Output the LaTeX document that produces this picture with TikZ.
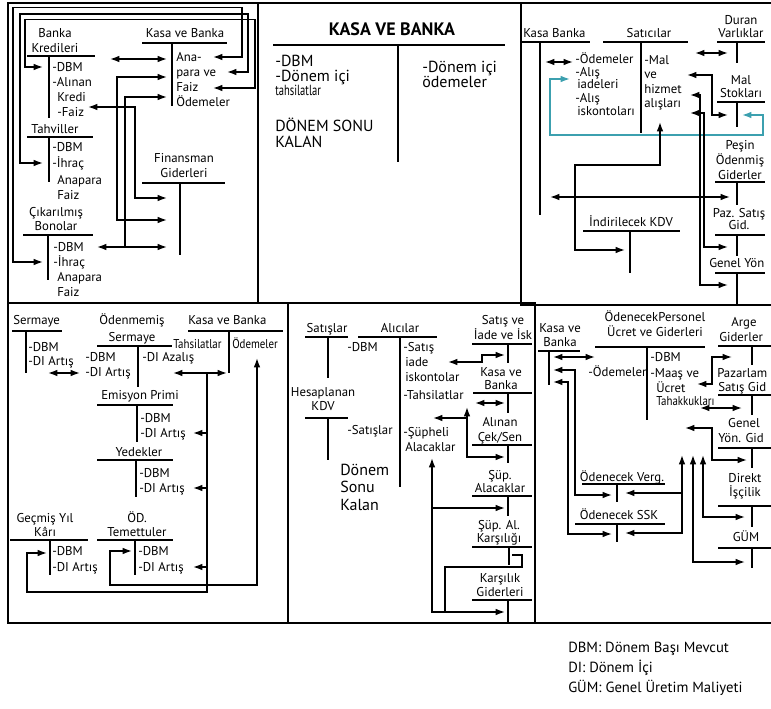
\documentclass[tikz,border=0pt]{standalone}
\usepackage{fontspec}
\setmainfont{PT Sans}
\newfontfamily\condfont[FakeStretch=0.85]{PT Sans}
\newfontfamily\narrowfont[FakeStretch=0.72]{PT Sans}
\usetikzlibrary{arrows.meta}
\definecolor{tealc}{RGB}{60,160,175}
\newcommand\myTx[6][]{\foreach \mytxt [count=\myi] in {#6}{\node[lbl,anchor=base west,#1] (#2-\myi) at (#3,{#4+#5*(\myi-1)}) {\mytxt};}}
\newcommand\myTc[6][]{\foreach \mytxt [count=\myi] in {#6}{\node[lbl,anchor=base,#1] (#2-\myi) at (#3,{#4+#5*(\myi-1)}) {\mytxt};}}
\newcommand\myT[5]{\draw[tline] (#1,#3)--(#2,#3) (#4,#3)--(#4,#5);}
\begin{document}
\begin{tikzpicture}[x=0.75pt,y=-0.75pt,
 lbl/.style={inner sep=0pt,font=\fontsize{9.6}{11}\selectfont},
 cond/.style={font=\condfont\fontsize{9.6}{11}\selectfont},
 condtm/.style={font=\narrowfont\fontsize{11}{13}\selectfont},
 big/.style={font=\fontsize{12}{14}\selectfont},
 legend/.style={font=\fontsize{11}{13}\selectfont},
 tline/.style={line width=1.5pt},
 panel/.style={line width=1.4pt},
 arr/.style={line width=1.1pt,-{Latex[length=7pt,width=5pt]}},
 darr/.style={line width=1.1pt,{Latex[length=7pt,width=5pt]}-{Latex[length=7pt,width=5pt]}},
]
\useasboundingbox (0,0) rectangle (771,709);
% ---------- panels
\draw[panel] (8,3) rectangle (258,303);
\draw[panel] (258,3) rectangle (521,303);
\draw[panel] (771,3) -- (521,3) -- (521,305) -- (771,305);
\draw[panel] (8,303) rectangle (288,623);
\draw[panel] (288,303) rectangle (535,623);
\draw[panel] (535,305) -- (535,623) -- (771,623);

% ================= TOP LEFT
\myTc{bk}{55}{38}{14.5}{Banka,Kredileri}
\myTx{bka}{52}{72}{15}{-DBM,-Alınan}
\myTx{bkb}{57}{102}{15}{Kredi,-Faiz}
\myTc{kb}{185}{38}{15}{Kasa ve Banka}
\myTx{kbr}{176}{62}{15}{Ana-,para ve,Faiz,Ödemeler}
\myTc{th}{55}{134}{15}{Tahviller}
\myTx{tha}{52}{152}{15.5}{-DBM,-İhraç}
\myTx{thb}{57}{184.5}{15}{Anapara,Faiz}
\myTc{fg}{184}{162.5}{15}{Finansman,Giderleri}
\myTc{cb}{56}{216.5}{14}{Çıkarılmış,Bonolar}
\myTx{cba}{53}{251.5}{15}{-DBM,-İhraç}
\myTx{cbb}{57}{281.5}{15}{Anapara,Faiz}
\myT{27}{95}{56}{49}{118}
\myT{142}{227}{43}{172}{106}
\myT{27}{93}{137}{49}{182}
\myT{142}{225}{183}{180}{255}
\myT{23}{93}{235}{48}{280}
\draw[darr] (110,59)--(167,59);
\draw[darr] (213,57)--(242,57)--(242,7.5)--(13,7.5)--(13,262)--(43,262);
\draw[darr] (227,72)--(248,72)--(248,14)--(20,14)--(20,163)--(43,163);
\draw[darr] (213,88)--(255,88)--(255,19.5)--(25,19.5)--(25,67)--(43,67);
\draw[darr] (88,107)--(135,107)--(135,198)--(167,198);
\draw[darr] (167,77)--(117,77)--(117,220)--(167,220);
\draw[arr] (125,247)--(125,97)--(167,97);
\draw[darr] (97,247)--(167,247);

% ================= TOP MIDDLE
\node[lbl,font=\bfseries\fontsize{13.5}{15}\selectfont,anchor=base] (kasa) at (392,35.5) {KASA VE BANKA};
\myT{273}{505}{45}{398}{162}
\myTx[big]{tma}{275}{67}{15}{-DBM,-Dönem içi}
\node[lbl,condtm,anchor=base west] (tmc) at (275,96) {tahsilatlar};
\myTx[big]{tms}{275}{132}{16}{DÖNEM SONU,KALAN}
\myTx[big]{tmr}{422}{73}{14.5}{-Dönem içi,ödemeler}

% ================= TOP RIGHT
\node[lbl,anchor=base west] (kbt) at (523,37.5) {Kasa Banka};
\myTc{sat}{649}{37.5}{15}{Satıcılar}
\node[lbl,anchor=base west] (s1) at (575,63.5) {-Ödemeler};
\node[lbl,anchor=base west] (s2) at (575,76.5) {-Alış};
\node[lbl,anchor=base west] (s3) at (577,89) {iadeleri};
\node[lbl,anchor=base west] (s4) at (575,102.5) {-Alış};
\node[lbl,anchor=base west] (s5) at (577,116) {iskontoları};
\myTx{sr}{644}{64.5}{14.3}{-Mal,ve,hizmet,alışları}
\myTc{dv}{741}{24.5}{13.5}{Duran,Varlıklar}
\myTc{ms}{741}{84.5}{13.5}{Mal,Stokları}
\myTc{pog}{740}{149.5}{15}{Peşin,Ödenmiş,Giderler}
\myTc{psg}{739}{217.5}{12}{Paz. Satış,Gid.}
\node[lbl,anchor=base west] (gy) at (709,267.5) {Genel Yön};
\myTc{ik}{631}{226.5}{15}{İndirilecek KDV}
\myT{522}{590}{42}{540}{215}
\myT{603}{688}{42}{641}{133}
\myT{717}{765}{42}{737}{63}
\myT{717}{765}{102}{737}{127}
\myT{715}{765}{182}{737}{205}
\myT{715}{765}{235}{737}{256}
\myT{715}{765}{273}{737}{305}
\myT{583}{680}{231}{630}{273}
\draw[darr] (545,62)--(573,62);
\draw[darr,tealc] (742,115)--(763,115)--(763,135)--(550,135)--(550,79)--(570,79);
\draw[darr] (695,53)--(728,53);
\draw[darr] (687,75)--(712,75)--(712,115)--(728,115);
\draw[darr] (690,95)--(700,95)--(700,285)--(728,285);
\draw[darr] (690,113)--(704,113)--(704,247)--(728,247);
\draw[darr] (660,122)--(660,165)--(575,165)--(575,250)--(625,250);
\draw[darr] (550,197)--(730,197);

% ================= BOTTOM LEFT
\node[lbl,anchor=base west] (ser) at (13,324.5) {Sermaye};
\myTx{sera}{28}{351.5}{14}{-DBM,-DI Artış}
\myTc{os}{132}{324.5}{17}{Ödenmemiş,Sermaye}
\myTx{osa}{85}{361.5}{15}{-DBM,-DI Artış}
\node[lbl,anchor=base west] (osr) at (142,361.5) {-DI Azalış};
\node[lbl,anchor=base west] (kb2) at (188,324.5) {Kasa ve Banka};
\node[lbl,cond,anchor=base west] (kb2t) at (173,349) {Tahsilatlar};
\node[lbl,cond,anchor=base west] (kb2o) at (232,349) {Ödemeler};
\myTc{ep}{140}{399.5}{15}{Emisyon Primi}
\myTx{epa}{140}{422.5}{15}{-DBM,-DI Artış}
\myTc{yd}{139}{456.5}{15}{Yedekler}
\myTx{yda}{139}{477.5}{15}{-DBM,-DI Artış}
\myTc{gyk}{45}{522.5}{14}{Geçmiş Yıl,Kârı}
\myTx{gya}{52}{555.5}{16}{-DBM,-DI Artış}
\myTc{ot}{137}{522.5}{14}{ÖD.,Temettuler}
\myTx{ota}{138}{555.5}{16}{-DBM,-DI Artış}
\myT{12}{62}{331}{26}{373}
\myT{97}{172}{346}{138}{387}
\myT{188}{283}{331}{229}{373}
\myT{97}{173}{405}{137}{442}
\myT{97}{173}{460}{136}{497}
\myT{10}{88}{540}{50}{575}
\myT{97}{173}{540}{135}{575}
\draw[darr] (48,373)--(80,373);
\draw[darr] (173,373)--(227,373);
\draw[arr] (207,373)--(207,592)--(27,592)--(27,553)--(47,553);
\draw[arr] (207,433)--(193,433);
\draw[arr] (207,488)--(193,488);
\draw[arr] (207,567)--(193,567);
\draw[darr] (132,551)--(110,551)--(110,585)--(257,585)--(257,358);

% ================= BOTTOM MIDDLE
\myTc{stl}{327}{332.5}{15}{Satışlar}
\myTc{alc}{400}{332.5}{15}{Alıcılar}
\node[lbl,anchor=base west] (al1) at (347,351.5) {-DBM};
\node[lbl,anchor=base west] (al2) at (347,434.5) {-Satışlar};
\node[lbl,anchor=base west] (al3) at (403,351.5) {-Satış};
\myTx{al4}{405}{366.5}{15}{iade,iskontolar}
\node[lbl,anchor=base west] (al6) at (403,399.5) {-Tahsilatlar};
\node[lbl,anchor=base west] (al7) at (403,436.5) {-Şüpheli};
\node[lbl,anchor=base west] (al8) at (405,451.5) {Alacaklar};
\myTc{hk}{323}{396.5}{14}{Hesaplanan,KDV}
\myTx[big]{dsk}{340}{475}{17.5}{Dönem,Sonu,Kalan}
\myTc{sis}{503}{324.5}{15}{Satış ve,İade ve İsk}
\myTc{kb3}{501}{376.5}{13}{Kasa ve,Banka}
\myTc{ac}{500}{426.5}{15}{Alınan,Çek/Sen}
\myTc{sa}{500}{479.5}{13}{Şüp.,Alacaklar}
\myTc{sak}{499}{529.5}{13}{Şüp. Al.,Karşılığı}
\myTc{kg}{500}{582.5}{14}{Karşılık,Giderleri}
\myT{305}{348}{337}{328}{378}
\myT{358}{437}{337}{400}{487}
\myT{305}{348}{418}{328}{460}
\myT{472}{532}{344}{508}{363}
\myT{473}{532}{393}{508}{413}
\myT{472}{532}{445}{508}{463}
\myT{472}{532}{496}{508}{516}
\myT{472}{532}{547}{509}{565}
\myT{472}{532}{600}{508}{623}
\draw[darr] (448,362)--(482,362)--(482,355)--(505,355);
\draw[darr] (475,403)--(505,403);
\draw[darr] (467,407)--(467,457)--(505,457);
\draw[arr] (467,418)--(433,418);
\draw[darr] (432,458)--(432,612)--(505,612);
\draw[arr] (432,508)--(505,508);
\draw[line width=1.1pt] (512,555)--(522,555)--(522,567)--(445,567)--(445,612);

% ================= BOTTOM RIGHT
\myTc{kb4}{560}{332.5}{14}{Kasa ve,Banka}
\node[lbl,anchor=base west] (od4) at (588,376.5) {-Ödemeler};
\myTc{op}{655}{321.5}{15}{ÖdenecekPersonel,Ücret ve Giderleri}
\myTx{opa}{650}{361.5}{15.5}{-DBM,-Maaş ve}
\node[lbl,anchor=base west] (opc) at (656,392) {Ücret};
\node[lbl,cond,anchor=base west] (opd) at (656,405.5) {Tahakkukları};
\node[lbl,anchor=base] (ag1) at (744,326.5) {Arge};
\node[lbl,anchor=base west] (ag2) at (719,341.5) {Giderler};
\node[lbl,anchor=base west] (pz1) at (717,377.5) {Pazarlam};
\node[lbl,anchor=base west] (pz2) at (718,391.5) {Satış Gid};
\node[lbl,anchor=base] (gn1) at (744,427.5) {Genel};
\node[lbl,anchor=base west] (gn2) at (718,442.5) {Yön. Gid};
\myTc{ov}{622}{481}{15}{Ödenecek Verg.}
\myTc{ossk}{619}{519.5}{15}{Ödenecek SSK}
\myTc{di}{745}{482.5}{14}{Direkt,İşçilik}
\myTc{gum}{746}{541.5}{15}{GÜM}
\myT{538}{580}{351}{549}{385}
\myT{595}{705}{347}{647}{420}
\myT{718}{771}{346}{752}{365}
\myT{718}{771}{395}{752}{415}
\myT{718}{771}{448}{752}{468}
\myT{582}{665}{484}{617}{502}
\myT{575}{665}{524}{617}{542}
\myT{718}{771}{506}{752}{527}
\myT{718}{771}{548}{752}{568}
\draw[darr] (553,357)--(595,357);
\draw[darr] (553,370)--(575,370)--(575,495)--(612,495);
\draw[darr] (553,382)--(568,382)--(568,534)--(612,534);
\draw[darr] (697,384)--(712,384)--(712,357)--(732,357);
\draw[darr] (700,408)--(742,408);
\draw[darr] (685,428)--(712,428)--(712,460)--(747,460);
\draw[darr] (625,533)--(682,533)--(682,455);
\draw[arr] (682,493)--(625,493);
\draw[darr] (693,455)--(693,562)--(745,562);
\draw[darr] (703,455)--(703,517)--(745,517);

% ================= LEGEND
\myTx[legend]{lg}{568}{652.5}{20}{DBM: Dönem Başı Mevcut,DI: Dönem İçi,GÜM: Genel Üretim Maliyeti}
\end{tikzpicture}
\end{document}
